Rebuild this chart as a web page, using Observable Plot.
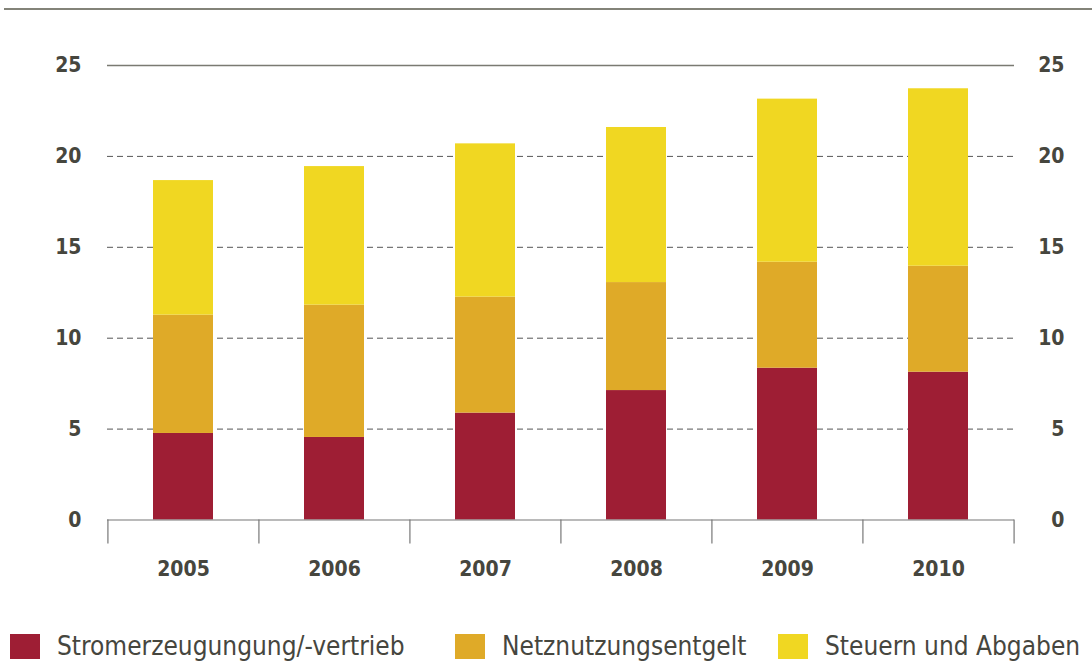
<!DOCTYPE html>
<html>
<head>
<meta charset="utf-8">
<script src="https://cdn.jsdelivr.net/npm/d3@7"></script>
<script src="https://cdn.jsdelivr.net/npm/@observablehq/plot@0.6"></script>
<style>
  html, body { margin: 0; padding: 0; background: #fff; }
  body { width: 1092px; height: 661px; position: relative; overflow: hidden;
         font-family: "Liberation Sans Narrow", "DejaVu Sans Condensed", "Noto Sans", sans-serif; color: #46463e; }
  #topline { position: absolute; left: 4px; right: 0; top: 8px; height: 2px; background: #838379; }
  #legend { position: absolute; left: 0; top: 620px; width: 1092px; height: 41px; }
  .item { position: absolute; top: 13px; display: flex; align-items: center; font-size: 26px; line-height: 26px; }
  .sw { width: 30px; height: 25px; margin-right: 17px; }
</style>
</head>
<body>
<div id="chart"></div>
<div id="topline"></div>
<div id="legend"></div>
<script>
const years = ["2005", "2006", "2007", "2008", "2009", "2010"];
const series = ["Stromerzeugungung/-vertrieb", "Netznutzungsentgelt", "Steuern und Abgaben"];
const colors = ["#9e1e34", "#dfaa28", "#f0d722"];
const erzeugung = [4.76, 4.54, 5.88, 7.12, 8.35, 8.13];
const netz = [6.51, 7.28, 6.38, 5.94, 5.83, 5.83];
const steuern = [7.40, 7.62, 8.43, 8.53, 8.97, 9.76];
const yTicks = [0, 5, 10, 15, 20, 25];
const gridDashed = [5, 10, 15, 20];

const values = [erzeugung, netz, steuern];
const data = [];
series.forEach((s, si) => years.forEach((y, yi) => data.push({year: y, series: s, value: values[si][yi]})));

const W = 1092, H = 620, mL = 107, mR = 78, mT = 65, mB = 100.5;
const step = (W - mL - mR) / years.length;
const font = '"Liberation Sans Narrow", "DejaVu Sans Condensed", "Noto Sans", sans-serif';
const txt = "#46463e";
const tickText = {fontSize: 21, fontWeight: "bold", fill: txt, label: null};

const chart = Plot.plot({
  width: W, height: H,
  marginLeft: mL, marginRight: mR, marginTop: mT, marginBottom: mB,
  style: {fontFamily: font, color: txt, background: "#fff"},
  x: {domain: years, paddingInner: 0.6, paddingOuter: 0.3, label: null},
  y: {domain: [0, 25], label: null},
  color: {domain: series, range: colors},
  marks: [
    Plot.ruleY(gridDashed, {stroke: "#555", strokeWidth: 1, strokeDasharray: "6,4"}),
    Plot.ruleY([25], {stroke: "#7a7a72", strokeWidth: 1.5}),
    Plot.barY(data, {x: "year", y: "value", fill: "series", order: series}),
    Plot.ruleY([0], {stroke: "#777", strokeWidth: 1.2}),
    Plot.ruleX(years, {x: d => d, y1: 0, y2: 0, insetBottom: -24, dx: -step / 2, stroke: "#777", strokeWidth: 1.2}),
    Plot.ruleX(years.slice(-1), {x: d => d, y1: 0, y2: 0, insetBottom: -24, dx: step / 2, stroke: "#777", strokeWidth: 1.2}),
    Plot.axisX({tickSize: 0, tickPadding: 41, ...tickText}),
    Plot.axisY({anchor: "left", ticks: yTicks, tickSize: 0, tickPadding: 26, ...tickText}),
    Plot.axisY({anchor: "right", ticks: yTicks, tickSize: 0, tickPadding: 50, textAnchor: "end", ...tickText})
  ]
});
document.getElementById("chart").appendChild(chart);

const legend = document.getElementById("legend");
const lefts = [10, 455, 778];
series.forEach((s, i) => {
  const it = document.createElement("div");
  it.className = "item";
  it.style.left = lefts[i] + "px";
  const sw = document.createElement("div");
  sw.className = "sw";
  sw.style.background = colors[i];
  const t = document.createElement("span");
  t.textContent = s;
  it.appendChild(sw); it.appendChild(t);
  legend.appendChild(it);
});
</script>
</body>
</html>
